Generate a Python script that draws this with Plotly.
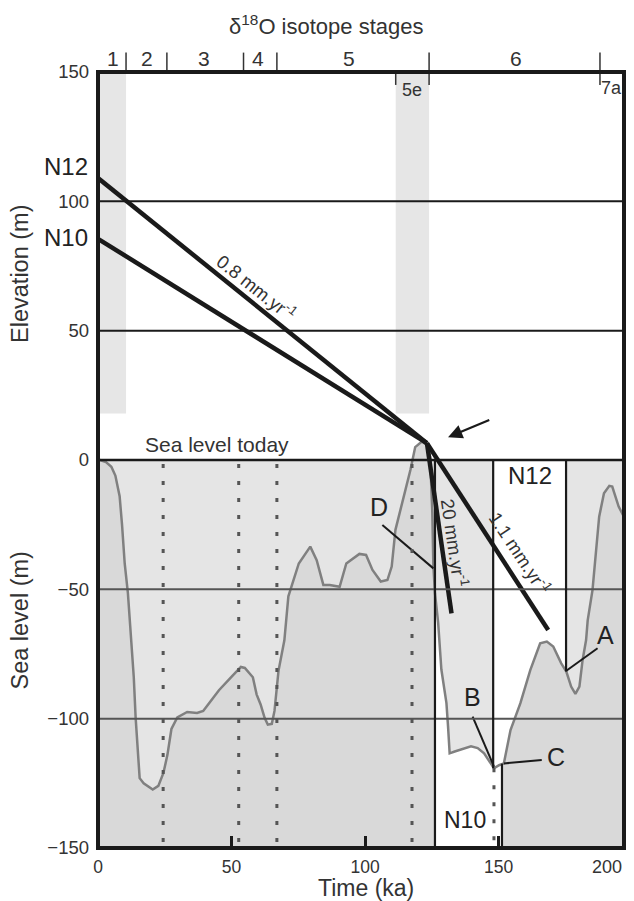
import numpy as np
import plotly.graph_objects as go

# sea level curve: time (ka) and sea level (m)
t_ka = [0.0, 0.7, 3, 5, 6.5, 8.1, 9, 10, 11.2, 12.4, 13.4, 14.1, 15, 15.6, 17.1, 20.5,
        22.6, 24.5, 26, 27.5, 29.7, 33.4, 37.1, 39.4, 41.6, 45.3, 49.8, 53.5, 55, 58,
        59.4, 60.9, 62.4, 63.6, 65.1, 66.1, 67.6, 69.8, 71.3, 75.2, 79.5, 81.9, 84.4,
        86.8, 90.5, 93, 97.9, 100.4, 102.8, 105.9, 108.4, 110, 111.4, 114.5, 117, 118.8,
        121.3, 123, 124.4, 125.2, 125.6, 126.2, 127.4, 128.6, 130.5, 131.1, 131.7, 133.6,
        136, 137.9, 139.7, 142.2, 144.6, 147.1, 148.3, 150.2, 152, 154.5, 158.2, 161.9,
        165.6, 168.1, 170.5, 173.5, 175.4, 177.2, 178.8, 180.3, 181.5, 182.8, 183.4,
        185.2, 186.5, 187.7, 189.5, 191.5, 192.6, 195, 197]
sl_m = [0, 0, -0.8, -2.6, -6, -14, -25, -40, -51.5, -70, -84, -99.7, -115, -123, -125, -127.4,
        -126, -121, -114, -104, -99.5, -97.4, -97.8, -97, -94, -89, -84, -80, -80.4, -84,
        -90.6, -94.5, -99.7, -102.3, -102, -97, -81.5, -69.7, -52.7, -40, -33.5, -38.7, -48.3,
        -48.3, -49, -40, -36.3, -36.7, -42.5, -47, -46.4, -41.2, -27, -14.2, -3.9, 5,
        7.1, 6, 1.3, -20, -41, -51.5, -63, -81, -94, -103, -113.4, -112.7,
        -112, -111.5, -110.7, -111.4, -113.4, -117.3, -119.2, -118, -117.3, -104.4, -94, -81.2,
        -70.9, -70.2, -72.1, -78.6, -81.8, -87.6, -90.4, -87.6, -77.3, -69.6, -62,
        -50.3, -35, -21.9, -12.9, -10, -10.3, -18, -22]

# uplift lines
n12_t, n12_z = [0, 123.2], [109, 6.5]
n10_t, n10_z = [0, 123.2], [85.5, 6.5]
r20_t, r20_z = [123.2, 132.4], [6.5, -59.3]
r11_t, r11_z = [123.2, 168.6], [6.5, -65.7]

# isotope stages
stage_bounds = [10.5, 25.8, 54.5, 67, 124, 188]
stage_names = ['1', '2', '3', '4', '5', '6']
stage_pos = [5.5, 18.4, 39.6, 60, 94, 156.7]
bands = [(0, 10.5), (111.5, 124)]
band_base = 18
dotted_t = [24.4, 52.7, 67, 117.6]

# boxes N10 / N12
n10_left, n10_right = 126.2, 151.3
n12_left, n12_right = 148, 175.3

X_MAX = 197
BLACK = '#1a1a1a'
FONT = 'Liberation Sans, Arial, sans-serif'

t = np.array(t_ka)
s = np.array(sl_m)

fig = go.Figure()

# dark grey below the curve
fig.add_trace(go.Scatter(x=[0, X_MAX], y=[-150, -150], mode='lines',
                         line=dict(width=0), hoverinfo='skip', showlegend=False))
fig.add_trace(go.Scatter(x=t, y=s, mode='lines', line=dict(width=0),
                         fill='tonexty', fillcolor='#d9d9d9',
                         hoverinfo='skip', showlegend=False))

# N10 white box below curve
m = (t > n10_left) & (t < n10_right)
px_ = [n10_left] + list(t[m]) + [n10_right, n10_right, n10_left]
py_ = [np.interp(n10_left, t, s)] + list(s[m]) + [np.interp(n10_right, t, s), -150, -150]
fig.add_trace(go.Scatter(x=px_, y=py_, mode='lines', line=dict(width=0),
                         fill='toself', fillcolor='white',
                         hoverinfo='skip', showlegend=False))

# the curve
fig.add_trace(go.Scatter(x=t, y=s, mode='lines', line=dict(color='#808080', width=2.5),
                         hoverinfo='skip', showlegend=False))

# uplift lines
for lt, lz in [(n12_t, n12_z), (n10_t, n10_z), (r20_t, r20_z), (r11_t, r11_z)]:
    fig.add_trace(go.Scatter(x=lt, y=lz, mode='lines', line=dict(color=BLACK, width=4.5),
                             hoverinfo='skip', showlegend=False))

# pointers for letters
pointers = {'A': ([175.4, 187.1], [-81.5, -72.8]),
            'B': ([140.3, 148.3], [-99.2, -118.5]),
            'C': ([152, 166.2], [-117.3, -116]),
            'D': ([106.5, 125.6], [-25.1, -41.9])}
for k, (px, py) in pointers.items():
    fig.add_trace(go.Scatter(x=px, y=py, mode='lines', line=dict(color=BLACK, width=2),
                             hoverinfo='skip', showlegend=False))

shapes = []
# background shades
shapes.append(dict(type='rect', xref='x', yref='y', x0=0, x1=X_MAX, y0=-150, y1=0,
                   fillcolor='#e5e5e5', line=dict(width=0), layer='below'))
shapes.append(dict(type='rect', xref='x', yref='y', x0=n12_left, x1=n12_right, y0=-150, y1=0,
                   fillcolor='white', line=dict(width=0), layer='below'))
for b0, b1 in bands:
    shapes.append(dict(type='rect', xref='x', yref='y', x0=b0, x1=b1, y0=band_base, y1=150,
                       fillcolor='#e6e6e6', line=dict(width=0), layer='below'))

# horizontal lines
for yv, col, w in [(100, BLACK, 2), (50, BLACK, 2), (0, BLACK, 2.5),
                   (-50, '#555555', 2), (-100, '#555555', 2)]:
    shapes.append(dict(type='line', xref='x', yref='y', x0=0, x1=X_MAX, y0=yv, y1=yv,
                       line=dict(color=col, width=w)))

# dotted lines
for xv in dotted_t:
    shapes.append(dict(type='line', xref='x', yref='y', x0=xv, x1=xv, y0=-1.5, y1=-150,
                       line=dict(color='#555555', width=3, dash='4px,13px')))
shapes.append(dict(type='line', xref='x', yref='y', x0=148.3, x1=148.3, y0=-119.2, y1=-150,
                   line=dict(color='#555555', width=3, dash='4px,13px')))

# box edges
for x0, y0, y1 in [(n10_left, 0, -150), (n12_left, 0, -119.2), (n12_right, 0, -81.8),
                   (n10_right, -117.4, -150)]:
    shapes.append(dict(type='line', xref='x', yref='y', x0=x0, x1=x0, y0=y0, y1=y1,
                       line=dict(color=BLACK, width=2.2)))

# isotope stage ticks above the frame
for xb in stage_bounds:
    shapes.append(dict(type='line', xref='x', yref='paper', x0=xb, x1=xb, y0=1, y1=1.025,
                       line=dict(color='#333333', width=1.5)))
# inner ticks (5e, 5/6, 7a)
for xb in [111.5, 124, 188]:
    shapes.append(dict(type='line', xref='x', yref='y', x0=xb, x1=xb, y0=150, y1=145,
                       line=dict(color='#333333', width=1.5)))

# frame
shapes.append(dict(type='rect', xref='paper', yref='paper', x0=0, x1=1, y0=0, y1=1,
                   line=dict(color=BLACK, width=4), layer='above'))

ann = []
def label(x, y, text, size, xref='x', yref='y', angle=0, xanchor='center', color='#222222'):
    ann.append(dict(x=x, y=y, xref=xref, yref=yref, text=text, showarrow=False,
                    textangle=angle, xanchor=xanchor, yanchor='middle',
                    font=dict(family=FONT, size=size, color=color)))

label(0.4326, 1.0606, 'δ<sup>18</sup>O isotope stages', 22, xref='paper', yref='paper', color='#333333')
for nm, xp in zip(stage_names, stage_pos):
    label(xp, 1.018, nm, 21, yref='paper', color='#333333')
label(117.6, 143, '5e', 18, color='#333333')
label(192.2, 143.7, '7a', 18, color='#333333')
label(-0.015, 113.5, 'N12', 24, xref='paper', xanchor='right')
label(-0.015, 86, 'N10', 24, xref='paper', xanchor='right')
label(-0.148, 72, 'Elevation (m)', 23.5, xref='paper', angle=-90, color='#333333')
label(-0.148, -62, 'Sea level (m)', 23.5, xref='paper', angle=-90, color='#333333')
label(0.509, -0.0515, 'Time (ka)', 23, xref='paper', yref='paper', color='#333333')
label(1.0, -0.024, '200', 18, xref='paper', yref='paper', xanchor='right', color='#333333')
label(44.4, 6, 'Sea level today', 21, color='#333333')
label(59.4, 67, '0.8 mm.yr<sup>-1</sup>', 18.5, angle=38.5, color='#333333')
label(133.6, -32.2, '20 mm.yr<sup>-1</sup>', 18.5, angle=81.7, color='#333333')
label(158.2, -36, '1.1 mm.yr<sup>-1</sup>', 18.5, angle=56.6, color='#333333')
label(161.9, -5.8, 'N12', 24)
label(137.3, -139, 'N10', 23)
label(190.2, -67.6, 'A', 25)
label(140.3, -91.5, 'B', 25)
label(171.7, -114.7, 'C', 25)
label(105.3, -18, 'D', 25)
# arrow to the 5e terrace
ann.append(dict(x=131.1, y=8.8, ax=147.1, ay=15.7, xref='x', yref='y', axref='x', ayref='y',
                text='', showarrow=True, arrowhead=2, arrowsize=1.3, arrowwidth=2.2,
                arrowcolor=BLACK))

# the page body has an 8px margin: keep the whole figure inside the window
fig.update_layout(
    width=618, height=893,
    margin=dict(l=90, r=2, t=64, b=53),
    paper_bgcolor='white', plot_bgcolor='white',
    shapes=shapes, annotations=ann,
    font=dict(family=FONT, color='#333333'),
    xaxis=dict(range=[0, X_MAX], tickvals=[0, 50, 100, 150], ticks='inside', ticklen=12,
               tickwidth=2.5, tickcolor=BLACK, showgrid=False, zeroline=False,
               showline=False, ticklabelstandoff=6,
               tickfont=dict(size=17.5, color='#333333')),
    yaxis=dict(range=[-150, 150], tickvals=[-150, -100, -50, 0, 50, 100, 150],
               ticks='', showgrid=False, zeroline=False, showline=False,
               ticklabelstandoff=8, tickfont=dict(size=18.5, color='#333333')),
)

fig.write_html('out.html')
